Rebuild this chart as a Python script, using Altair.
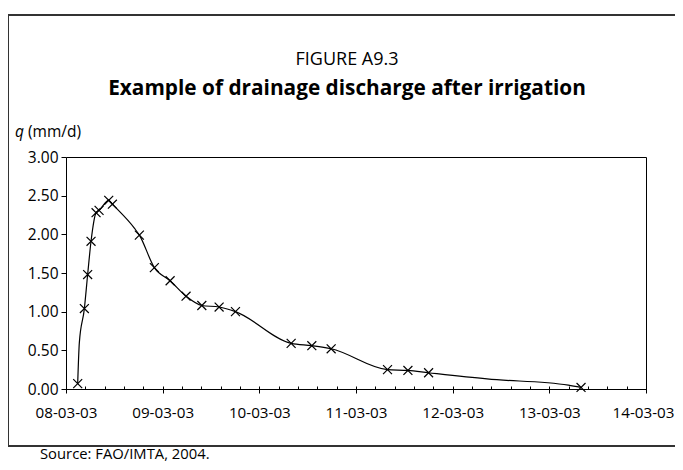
import altair as alt
import pandas as pd

# ---- data ----
# days after 08-03-03 00:00 (fractional), discharge q in mm/d
marker_days = [0.121, 0.190, 0.224, 0.259, 0.311, 0.342, 0.442, 0.480, 0.759, 0.914,
               1.077, 1.242, 1.405, 1.584, 1.753, 2.329, 2.543, 2.743, 3.326, 3.537,
               3.751, 5.328]
marker_q = [0.07, 1.04, 1.48, 1.91, 2.28, 2.31, 2.44, 2.39, 1.99, 1.57,
            1.40, 1.20, 1.08, 1.06, 1.00, 0.59, 0.56, 0.52, 0.25, 0.24,
            0.21, 0.02]
# unmarked readings that the curve passes through
extra_days = [0.138, 0.707, 4.355, 5.197]
extra_q = [0.60, 2.08, 0.13, 0.05]

date_labels = ["08-03-03", "09-03-03", "10-03-03", "11-03-03",
               "12-03-03", "13-03-03", "14-03-03"]
y_ticks = [0.0, 0.5, 1.0, 1.5, 2.0, 2.5, 3.0]
x_ticks = [round(i * 0.2, 1) for i in range(31)]

TITLE = "FIGURE A9.3"
SUBTITLE = "Example of drainage discharge after irrigation"
Y_VAR = "q"
Y_UNIT = "(mm/d)"
SOURCE = "Source: FAO/IMTA, 2004."

FONT = "Open Sans"

markers = pd.DataFrame({"day": marker_days, "q": marker_q})
line_df = pd.concat(
    [markers, pd.DataFrame({"day": extra_days, "q": extra_q})]
).sort_values("day").reset_index(drop=True)

is_major = "abs(datum.value - round(datum.value)) < 0.01"
label_array = "[" + ",".join(f"'{d}'" for d in date_labels) + "]"

x_axis = alt.Axis(
    values=x_ticks,
    title=None,
    domain=False,
    grid=False,
    offset=-3,
    tickColor="black",
    tickWidth=1,
    tickSize={"condition": {"test": is_major, "value": 7}, "value": 3},
    labelExpr=f"{is_major} ? {label_array}[round(datum.value)] : ''",
    labelOffset={"condition": {"test": "datum.value > 5.9", "value": -3}, "value": 0},
    labelFont=FONT,
    labelFontSize=15.2,
    labelColor="black",
    labelPadding=12,
    labelOverlap=False,
    labelFlush=False,
    labelBound=False,
)
y_axis = alt.Axis(
    values=y_ticks,
    format=".2f",
    title=None,
    domain=False,
    grid=False,
    tickColor="black",
    tickSize=5,
    labelFont=FONT,
    labelFontSize=15.5,
    labelColor="black",
    labelPadding=3,
    labelOverlap=False,
    labelBound=False,
)
x_scale = alt.Scale(domain=[0, 6], nice=False, zero=False)
y_scale = alt.Scale(domain=[0, 3], nice=False)

x_enc = alt.X("day:Q", scale=x_scale, axis=x_axis)
y_enc = alt.Y("q:Q", scale=y_scale, axis=y_axis)

line = alt.Chart(line_df).mark_line(
    color="black", strokeWidth=1.2, interpolate="monotone"
).encode(x=x_enc, y=y_enc)

points = alt.Chart(markers).mark_point(
    shape="M-1,-1L1,1M-1,1L1,-1", filled=False, color="black",
    strokeWidth=1.2, size=80, opacity=1
).encode(x=x_enc, y=y_enc)

frame = alt.Chart(pd.DataFrame({"f": [0]})).mark_rect(
    fill=None, stroke="#333333", strokeWidth=2
).encode(
    x=alt.value(-58), x2=alt.value(640),
    y=alt.value(-142), y2=alt.value(289),
)


def text_layer(txt, x, y, size, align="center", weight="normal", style="normal"):
    return alt.Chart(pd.DataFrame({"t": [txt]})).mark_text(
        font=FONT, fontSize=size, align=align, baseline="alphabetic",
        fontWeight=weight, fontStyle=style, color="black"
    ).encode(x=alt.value(x), y=alt.value(y), text="t:N")


title = text_layer(TITLE, 281, -92, 18)
subtitle = text_layer(SUBTITLE, 281, -62, 20.8, weight="bold")
yvar = text_layer(Y_VAR, -51, -20, 15.5, align="left", style="italic")
yunit = text_layer(Y_UNIT, -38, -20, 15.5, align="left")
source = text_layer(SOURCE, -26, 301.5, 14.8, align="left")

chart = alt.layer(
    frame, line, points, title, subtitle, yvar, yunit, source
).properties(
    width=580,
    height=232,
    autosize=alt.AutoSizeParams(type="none"),
    padding={"left": 58, "top": 149, "right": 29, "bottom": 73},
    background="white",
).configure_view(
    stroke="black", strokeWidth=1
).configure_axis(
    labelOverlap=False
)

chart.save("out.html", embed_options={"renderer": "svg", "actions": False})
